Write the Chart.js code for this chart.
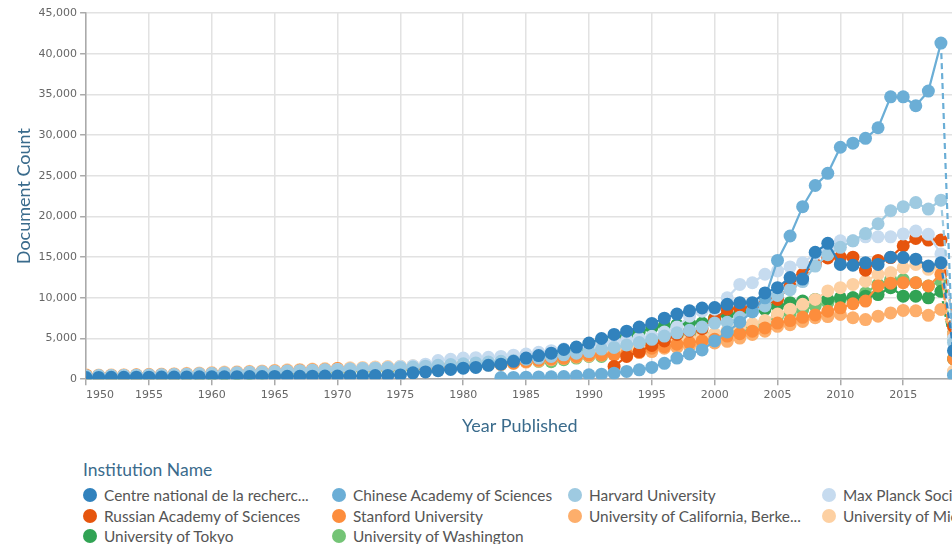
<!DOCTYPE html>
<html>
<head>
<meta charset="utf-8">
<script src="https://cdn.jsdelivr.net/npm/chart.js@4"></script>
<style>
  body { margin: 0; background: #fff; overflow: hidden; }
  #wrap { position: relative; width: 952px; height: 544px; overflow: hidden; }
  #chart { position: absolute; left: 0; top: 0; }
  #legend { position: absolute; left: 83px; top: 457px; width: 1000px; font-family: Lato, sans-serif; }
  .legend-title { color: #3a6b8c; font-size: 17.5px; height: 26px; line-height: 26px; }
  .legend-grid { display: grid; grid-template-columns: 249px 236px 254px 240px; grid-auto-rows: 20.5px; margin-top: 2px; }
  .legend-item { display: flex; align-items: center; white-space: nowrap; }
  .legend-dot { width: 14px; height: 14px; border-radius: 50%; flex: none; margin-right: 7px; }
  .legend-text { color: #555; font-size: 15.4px; }
</style>
</head>
<body>
<div id="wrap">
  <canvas id="chart" width="960" height="440"></canvas>
  <div id="legend">
    <div class="legend-title">Institution Name</div>
    <div class="legend-grid" id="legend-grid"></div>
  </div>
</div>
<script>
const years = [
  1950, 1951, 1952, 1953, 1954, 1955, 1956, 1957, 1958, 1959,
  1960, 1961, 1962, 1963, 1964, 1965, 1966, 1967, 1968, 1969,
  1970, 1971, 1972, 1973, 1974, 1975, 1976, 1977, 1978, 1979,
  1980, 1981, 1982, 1983, 1984, 1985, 1986, 1987, 1988, 1989,
  1990, 1991, 1992, 1993, 1994, 1995, 1996, 1997, 1998, 1999,
  2000, 2001, 2002, 2003, 2004, 2005, 2006, 2007, 2008, 2009,
  2010, 2011, 2012, 2013, 2014, 2015, 2016, 2017, 2018, 2019
]
const xTicks = [1950, 1955, 1960, 1965, 1970, 1975, 1980, 1985, 1990, 1995, 2000, 2005, 2010, 2015, 2019]

const cnrs = [
  200, 220, 230, 240, 250, 250, 260, 270, 280, 290,
  300, 300, 310, 320, 330, 340, 350, 360, 370, 380,
  390, 400, 420, 440, 460, 520, 780, 900, 1050, 1200,
  1350, 1450, 1700, 1850, 2200, 2600, 2900, 3200, 3650, 3950,
  4450, 5000, 5500, 5900, 6400, 6850, 7500, 8000, 8400, 8750,
  8800, 9200, 9400, 9400, 10600, 11250, 12500, 12300, 15600, 16700,
  14100, 14000, 14300, 14100, 15000, 14950, 14750, 13900, 14300, 3500
]
const chinese = [
  null, null, null, null, null, null, null, null, null, null,
  null, null, null, null, null, null, null, null, null, null,
  null, null, null, null, null, null, null, null, null, null,
  null, null, null, 200, 220, 250, 280, 300, 330, 400,
  540, 620, 740, 950, 1150, 1450, 1950, 2600, 3100, 3600,
  4700, 5800, 7000, 8300, 10000, 14600, 17600, 21200, 23800, 25300,
  28500, 29000, 29600, 30900, 34700, 34700, 33600, 35400, 41300, 500
]
const harvard = [
  420, 440, 450, 470, 490, 520, 550, 580, 620, 660,
  700, 750, 800, 850, 900, 950, 1000, 1050, 1100, 1150,
  1200, 1250, 1300, 1350, 1400, 1450, 1500, 1600, 1700, 1800,
  1900, 2000, 2100, 2200, 2300, 2450, 2600, 2800, 3000, 3200,
  3400, 3700, 3900, 4200, 4500, 4900, 5300, 5700, 6000, 6400,
  6900, 7000, 7600, 8300, 9000, 10300, 11000, 12000, 13900, 15300,
  16200, 17000, 17900, 19100, 20700, 21200, 21700, 20900, 22000, 4500
]
const maxPlanck = [
  380, 400, 420, 440, 460, 490, 520, 550, 590, 630,
  670, 720, 770, 820, 870, 920, 970, 1020, 1080, 1140,
  1200, 1260, 1320, 1380, 1440, 1550, 1650, 1850, 2300, 2450,
  2600, 2650, 2700, 2800, 2950, 3100, 3300, 3500, 3700, 3900,
  4150, 4400, 4650, 4850, 5050, 5270, 5800, 6400, 7750, 8350,
  8600, 10000, 11650, 11850, 12900, 13300, 13800, 14300, 15400, 16000,
  17000, 17000, 17500, 17500, 17500, 17850, 18200, 17800, 15400, 5000
]
const russian = [
  null, null, null, null, null, null, null, null, null, null,
  null, null, null, null, null, null, null, null, null, null,
  null, null, null, null, null, null, null, null, null, null,
  null, null, null, null, null, null, null, null, null, null,
  null, null, 1570, 2800, 3400, 4150, 4700, 5500, 5900, 6200,
  7400, 8600, 8770, 8770, 9200, 9800, 11450, 12900, 14100, 14900,
  15000, 15000, 13400, 14600, 14950, 16400, 17300, 17100, 17100, 6500
]
const stanford = [
  500, 450, 470, 490, 510, 540, 570, 600, 640, 680,
  720, 770, 820, 870, 920, 1000, 1050, 1100, 1150, 1200,
  1300, 1250, 1300, 1350, 1400, 1450, 1500, 1550, 1600, 1650,
  1700, 1750, 1800, 1900, 2000, 2200, 2350, 2500, 2600, 2800,
  3000, 3000, 3000, 3100, 3300, 3800, 4000, 4300, 4500, 4700,
  4900, 5300, 5600, 5900, 6300, 6900, 7200, 7600, 7900, 8350,
  8770, 9270, 9600, 11450, 11800, 11850, 11850, 11450, 12900, 2500
]
const berkeley = [
  450, 420, 440, 460, 480, 500, 530, 560, 600, 640,
  680, 720, 760, 800, 850, 900, 950, 1000, 1050, 1100,
  1150, 1200, 1250, 1300, 1350, 1400, 1450, 1500, 1550, 1600,
  1650, 1700, 1750, 1800, 1950, 2100, 2250, 2400, 2550, 2700,
  2850, 2950, 3050, 3150, 3300, 3400, 3800, 3900, 4050, 4300,
  4450, 4650, 5050, 5500, 5900, 6500, 6700, 7100, 7550, 7700,
  7950, 7550, 7330, 7750, 8150, 8450, 8400, 7850, 8570, 5500
]
const michigan = [
  550, 520, 540, 560, 580, 610, 640, 680, 720, 770,
  820, 870, 920, 970, 1020, 1100, 1150, 1200, 1250, 1300,
  1350, 1400, 1450, 1500, 1550, 1600, 1650, 1700, 1750, 1800,
  1860, 1950, 2050, 2150, 2250, 2350, 2500, 2650, 2800, 2950,
  3100, 3300, 3500, 3700, 3900, 4100, 4400, 4700, 5000, 5300,
  5600, 6000, 6400, 6800, 7200, 8000, 8600, 9200, 9800, 10850,
  11250, 11650, 12050, 12900, 13100, 13700, 14100, 13500, 13700, 1000
]
const tokyo = [
  420, 400, 410, 420, 440, 460, 480, 500, 530, 560,
  600, 640, 680, 720, 760, 820, 880, 940, 1000, 1060,
  1120, 1180, 1240, 1300, 1350, 1400, 1450, 1500, 1550, 1650,
  1750, 1850, 1950, 2050, 2200, 2500, 2700, 2900, 3200, 3600,
  4250, 4650, 5050, 5400, 5800, 6300, 6600, 6700, 6900, 6900,
  7500, 7950, 8150, 8570, 8570, 8970, 9400, 9600, 9800, 9800,
  10000, 10000, 10200, 10400, 11250, 10200, 10200, 10000, 10800, 2500
]
const washington = [
  400, 380, 390, 400, 420, 440, 460, 480, 510, 540,
  570, 610, 650, 690, 730, 780, 830, 880, 930, 980,
  1030, 1080, 1130, 1180, 1230, 1280, 1330, 1380, 1430, 1500,
  1600, 1700, 1800, 1900, 2000, 2200, 2200, 2150, 2400, 2600,
  2800, 2800, 3500, 3800, 4200, 4800, 5000, 5200, 5400, 5500,
  5500, 5800, 6200, 6600, 7000, 7750, 8100, 8500, 9000, 9400,
  9800, 10000, 10600, 11650, 12250, 12250, 11850, 11450, 12050, 5000
]

const names = [
  'Centre national de la recherche scientifique',
  'Chinese Academy of Sciences',
  'Harvard University',
  'Max Planck Society',
  'Russian Academy of Sciences',
  'Stanford University',
  'University of California, Berkeley',
  'University of Michigan',
  'University of Tokyo',
  'University of Washington'
]
const colors = ['#3182bd', '#6baed6', '#9ecae1', '#c6dbef', '#e6550d', '#fd8d3c', '#fdae6b', '#fdd0a2', '#31a354', '#74c476']
const series = [cnrs, chinese, harvard, maxPlanck, russian, stanford, berkeley, michigan, tokyo, washington]

const titleColor = '#3a6b8c'
const lastIndex = years.length - 1

const datasets = series.map((vals, i) => ({
  label: names[i],
  data: years.map((yr, j) => ({ x: yr, y: vals[j] })),
  borderColor: colors[i],
  backgroundColor: colors[i],
  pointBackgroundColor: colors[i],
  pointBorderColor: colors[i],
  borderWidth: 2.2,
  pointRadius: 6.5,
  pointBorderWidth: 0,
  pointHoverRadius: 6.5,
  clip: 0,
  segment: {
    borderDash: c => c.p1DataIndex === lastIndex ? [6, 4] : undefined
  }
}))

const ctx = document.getElementById('chart')
new Chart(ctx, {
  type: 'line',
  data: { datasets: datasets },
  options: {
    responsive: false,
    animation: false,
    events: [],
    layout: { padding: { top: 13, left: 13, right: 2, bottom: 1 } },
    plugins: {
      legend: { display: false },
      tooltip: { enabled: false }
    },
    scales: {
      x: {
        type: 'linear',
        min: 1950,
        max: 2019,
        afterBuildTicks: axis => { axis.ticks = xTicks.map(v => ({ value: v })) },
        ticks: {
          align: 'inner',
          autoSkip: false,
          maxRotation: 0,
          padding: 3,
          color: '#666',
          font: { family: 'DejaVu Sans', size: 11 },
          callback: v => v % 5 === 0 ? String(v) : ''
        },
        grid: { color: '#e2e2e2', lineWidth: 1.5, tickLength: 6, tickColor: '#aaa' },
        border: { color: '#aaa', width: 1.5 },
        title: {
          display: true,
          text: 'Year Published',
          color: titleColor,
          font: { family: 'Lato', size: 18 },
          padding: { top: 11, bottom: 2 }
        }
      },
      y: {
        min: 0,
        max: 45000,
        ticks: {
          stepSize: 5000,
          padding: 3,
          color: '#666',
          font: { family: 'DejaVu Sans', size: 11 },
          callback: v => v.toLocaleString('en-US')
        },
        grid: { color: '#e2e2e2', lineWidth: 1.5, tickLength: 6, tickColor: '#aaa' },
        border: { color: '#aaa', width: 1.5 },
        title: {
          display: true,
          text: 'Document Count',
          color: titleColor,
          font: { family: 'Lato', size: 18 },
          padding: { top: 0, bottom: 1 }
        }
      }
    }
  }
})

// Legend, built from the same names and colours; long names cut with "..."
const legendMaxWidth = 213
const measure = document.createElement('canvas').getContext('2d')
measure.font = '15.4px Lato'
function fitName(name) {
  if (measure.measureText(name).width <= legendMaxWidth) return name
  let cut = name
  while (cut.length > 1 && measure.measureText(cut + '...').width > legendMaxWidth) {
    cut = cut.slice(0, -1)
  }
  return cut.trimEnd() + '...'
}

const grid = document.getElementById('legend-grid')
names.forEach((name, i) => {
  const item = document.createElement('div')
  item.className = 'legend-item'
  const dot = document.createElement('span')
  dot.className = 'legend-dot'
  dot.style.background = colors[i]
  const text = document.createElement('span')
  text.className = 'legend-text'
  text.textContent = fitName(name)
  item.appendChild(dot)
  item.appendChild(text)
  grid.appendChild(item)
})
</script>
</body>
</html>
